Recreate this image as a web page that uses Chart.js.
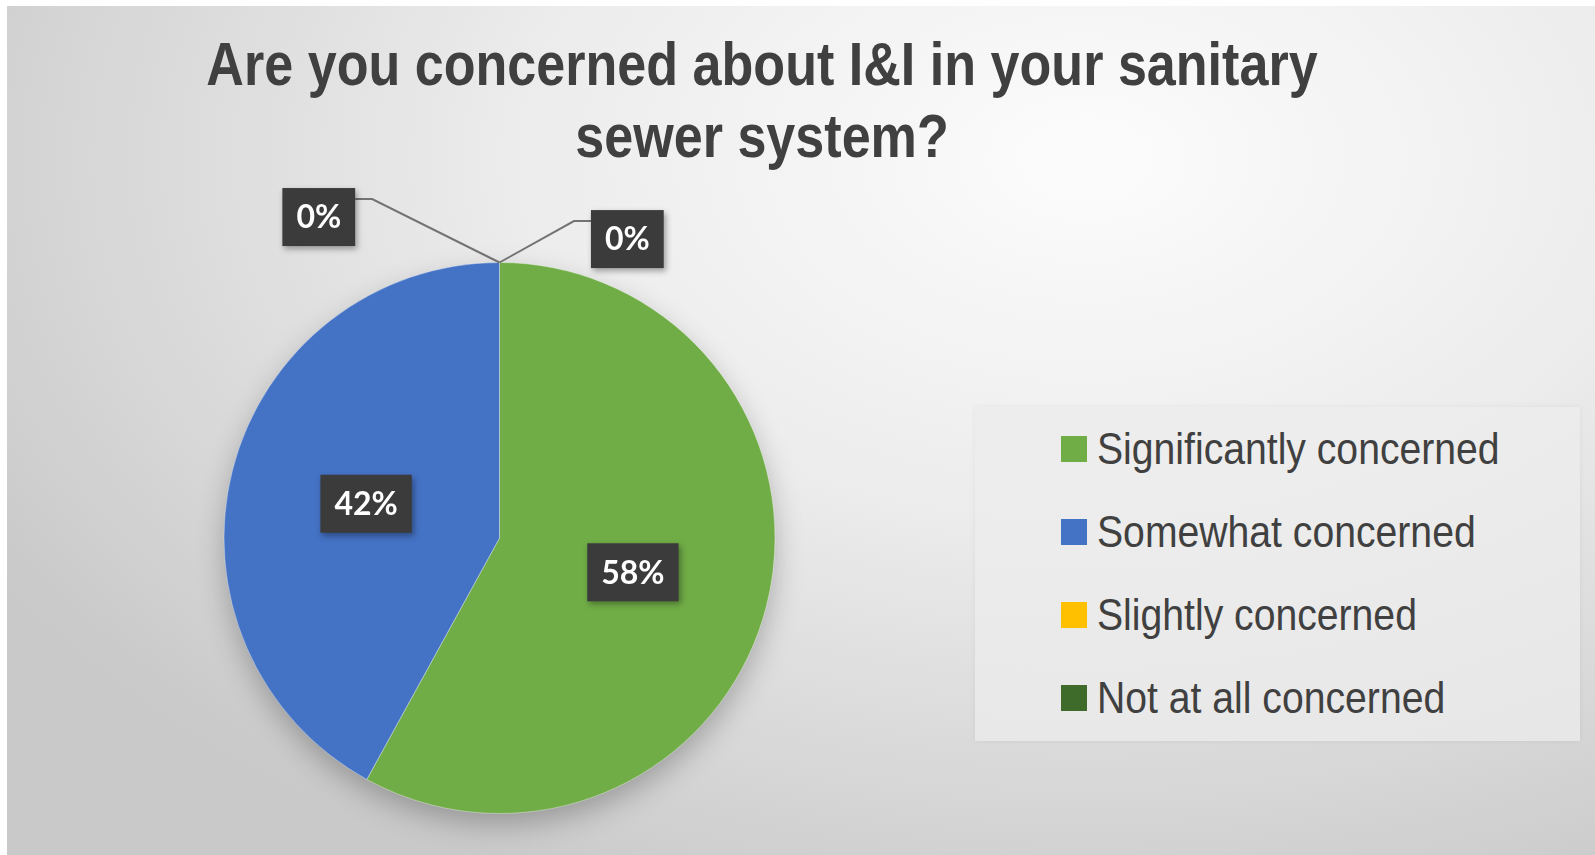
<!DOCTYPE html>
<html lang="en">
<head>
  <meta charset="UTF-8">
  <title>I&amp;I concern survey</title>
  <script src="https://cdn.jsdelivr.net/npm/chart.js"></script>
  <style>
    html, body { margin: 0; padding: 0; background: #fff; }
    body { width: 1595px; height: 855px; position: relative; overflow: hidden; }
    .panel {
      position: absolute; left: 7px; top: 6px; right: 0; bottom: 0;
      background: radial-gradient(ellipse 80% 95% at 68% 18%, #fcfcfc 0%, #ececec 45%, #d6d6d6 80%, #c9c9c9 100%);
    }
    /* no narrow face installed, so squeeze the regular one */
    .chart-title {
      position: absolute; left: 0; top: 28px; width: 1524px;
      text-align: center; color: #404040;
      font: bold 62px/72px "Liberation Sans", Arial, sans-serif;
      transform: scaleX(0.84);
    }
    .legend {
      position: absolute; left: 975px; top: 407px; width: 605px; height: 334px;
      background: rgba(236, 236, 236, 0.75);
      box-shadow: 0 0 6px rgba(0,0,0,0.06);
    }
    .legend-item {
      position: absolute; left: 86px; height: 40px; display: flex; align-items: center;
      color: #404040; font: 45px "Liberation Sans", Arial, sans-serif;
      white-space: nowrap;
    }
    .legend-item .swatch { width: 26px; height: 26px; margin-right: 10px; flex: none; }
    .legend-item .name { display: inline-block; transform: scaleX(0.87); transform-origin: left center; }
    canvas { position: absolute; left: 0; top: 0; }
  </style>
</head>
<body>
  <div class="panel"></div>
  <div class="chart-title">Are you concerned about I&amp;I in your sanitary<br>sewer system?</div>
  <div class="legend" id="legend"></div>
  <canvas id="pieChart" width="1595" height="855"></canvas>

  <script>
    const categories = ['Significantly concerned', 'Somewhat concerned', 'Slightly concerned', 'Not at all concerned'];
    const shares = [58, 42, 0, 0];
    const sliceColors = ['#70AD47', '#4472C4', '#FFC000', '#3E6B2A'];

    // where the two empty slices hang their labels (in pie radii from the centre)
    const zeroCallouts = { 2: [-0.656, -1.165], 3: [0.464, -1.085] };

    // legend built from the same arrays
    const legendBox = document.getElementById('legend');
    categories.forEach((name, i) => {
      const row = document.createElement('div');
      row.className = 'legend-item';
      row.style.top = (22 + i * 83) + 'px';
      row.innerHTML = `<span class="swatch" style="background:${sliceColors[i]}"></span><span class="name">${name}</span>`;
      legendBox.appendChild(row);
    });

    function labelBox(ctx, x, y, w, h) {
      ctx.save();
      ctx.shadowColor = 'rgba(0,0,0,0.35)';
      ctx.shadowBlur = 6;
      ctx.shadowOffsetX = 2;
      ctx.shadowOffsetY = 3;
      ctx.fillStyle = '#3b3b3b';
      ctx.fillRect(x, y, w, h);
      ctx.restore();
    }

    const pieDecor = {
      id: 'pieDecor',
      beforeDatasetsDraw(chart) {
        const arc = chart.getDatasetMeta(0).data[0];
        if (!arc) return;
        const { x, y, outerRadius } = arc.getProps(['x', 'y', 'outerRadius'], true);
        const ctx = chart.ctx;
        ctx.save();
        ctx.shadowColor = 'rgba(0,0,0,0.28)';
        ctx.shadowBlur = 30;
        ctx.shadowOffsetY = 12;
        ctx.fillStyle = '#cfcfcf';
        ctx.beginPath();
        ctx.arc(x, y, outerRadius - 2, 0, Math.PI * 2);
        ctx.fill();
        ctx.restore();
      },
      afterDatasetsDraw(chart) {
        const ctx = chart.ctx;
        const meta = chart.getDatasetMeta(0);
        meta.data.forEach((arc, i) => {
          const text = shares[i] + '%';
          ctx.font = 'bold 32px Lato, "Open Sans", sans-serif';
          const w = ctx.measureText(text).width + 28;
          const h = 58;
          let cx, cy;
          if (shares[i] > 0) {
            const p = arc.tooltipPosition(true);
            cx = p.x; cy = p.y;
          } else {
            const { x, y, outerRadius, startAngle } = arc.getProps(['x', 'y', 'outerRadius', 'startAngle'], true);
            const off = zeroCallouts[i];
            cx = x + off[0] * outerRadius;
            cy = y + off[1] * outerRadius;
            const ax = x + Math.cos(startAngle) * outerRadius;
            const ay = y + Math.sin(startAngle) * outerRadius;
            const edgeX = cx < ax ? cx + w / 2 : cx - w / 2;
            const ly = cy - h / 2 + 11;
            const elbowX = cx < ax ? edgeX + 17 : edgeX - 17;
            ctx.save();
            ctx.strokeStyle = '#737373';
            ctx.lineWidth = 2;
            ctx.beginPath();
            ctx.moveTo(ax, ay);
            ctx.lineTo(elbowX, ly);
            ctx.lineTo(edgeX, ly);
            ctx.stroke();
            ctx.restore();
          }
          labelBox(ctx, cx - w / 2, cy - h / 2, w, h);
          ctx.fillStyle = '#ffffff';
          ctx.textAlign = 'center';
          ctx.textBaseline = 'middle';
          ctx.fillText(text, cx, cy + 1);
        });
      }
    };

    new Chart(document.getElementById('pieChart'), {
      type: 'pie',
      data: {
        labels: categories,
        datasets: [{
          data: shares,
          backgroundColor: sliceColors,
          borderColor: 'rgba(255,255,255,0.35)',
          borderWidth: 1,
          hoverOffset: 0
        }]
      },
      options: {
        responsive: false,
        animation: false,
        events: [],
        layout: { padding: { left: 223, right: 819, top: 262, bottom: 41 } },
        plugins: {
          legend: { display: false },
          title: { display: false },
          tooltip: { enabled: false }
        }
      },
      plugins: [pieDecor]
    });
  </script>
</body>
</html>
